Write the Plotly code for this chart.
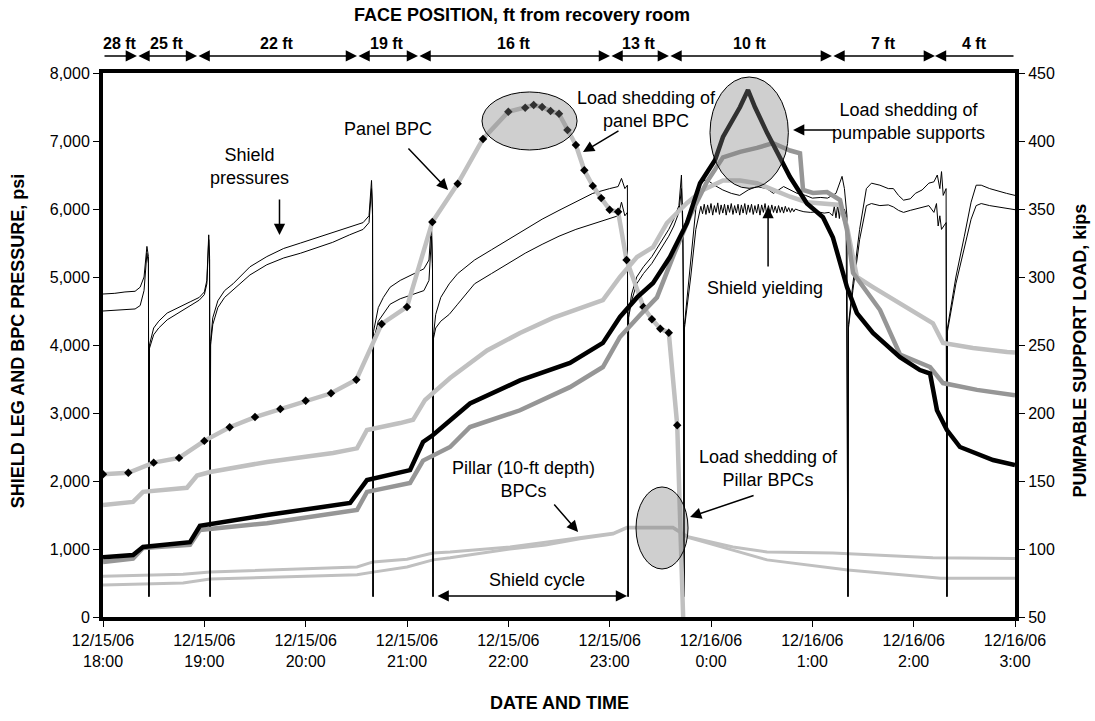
import plotly.graph_objects as go

# ---------------- DATA ----------------
# time axis in minutes after 12/15/06 18:00
tick_minutes = [0, 60, 120, 180, 240, 300, 360, 420, 480, 540]
tick_labels = ["12/15/06<br>18:00", "12/15/06<br>19:00", "12/15/06<br>20:00", "12/15/06<br>21:00",
               "12/15/06<br>22:00", "12/15/06<br>23:00", "12/16/06<br>0:00", "12/16/06<br>1:00",
               "12/16/06<br>2:00", "12/16/06<br>3:00"]

# face position (ft from recovery room) and segment boundaries (minutes)
face_labels = ["28 ft", "25 ft", "22 ft", "19 ft", "16 ft", "13 ft", "10 ft", "7 ft", "4 ft"]
face_bounds = [0, 20.1, 55.7, 150.4, 186.5, 300.2, 335.1, 431.6, 492.6, 540]

# shield leg pressures (psi), two legs
leg_a_min = [0, 7, 13, 19, 22, 24.3, 26, 26.9, 27.2,
             27.5, 30, 33, 38, 45, 52, 57, 60, 61.5, 62.6, 63.1, 63.4,
             63.7, 65, 68, 72, 77, 87, 97, 107, 117, 127, 136, 146, 154, 157.5, 159, 159.6, 159.9,
             160.2, 161, 163, 166, 170, 176, 184, 190, 193, 194.5, 195.1, 195.4,
             195.7, 197, 200, 205, 210, 220, 230, 240, 250, 260, 270, 280, 290, 300, 305, 307, 309, 310.5, 310.9,
             311.2, 313, 316, 320, 325, 330, 335, 338, 341, 342.5, 343.3, 343.7, 344,
             344.3, 348, 351, 354, 357.6, 362, 367, 372, 377, 382, 387, 393, 397, 403, 407, 411, 416, 420,
             425, 429, 434, 437.6, 439, 440.5, 441.1,
             441.4, 444, 448, 452, 455, 460, 465, 468, 471, 474, 478, 481, 485, 489, 492, 494, 495.5, 496.5,
             497.5, 499.2, 499.7,
             500, 505, 510, 514, 517, 520, 525, 530, 535, 540]
leg_a_psi = [4750, 4760, 4780, 4790, 4850, 5000, 5450, 5300, 300,
             4000, 4250, 4350, 4470, 4560, 4640, 4700, 4780, 4950, 5620, 5300, 300,
             4050, 4400, 4650, 4800, 4900, 5150, 5300, 5420, 5500, 5580, 5650, 5730, 5800, 5900, 6420, 6000, 300,
             4200, 4300, 4550, 4700, 4850, 4950, 5050, 5120, 5250, 5800, 5200, 300,
             4150, 4450, 4700, 4900, 5050, 5250, 5400, 5550, 5700, 5850, 5980, 6100, 6230, 6300, 6330, 6450, 6300, 6350, 300,
             4450, 4750, 5000, 5150, 5300, 5500, 5700, 5850, 6050, 6500, 5800, 4400, 300,
             4300, 5300, 6000, 6400, 6430, 6350, 6280, 6230, 6200, 6280, 6330, 6300, 6230, 6330, 6280, 6230, 6200, 6160,
             6170, 6160, 6230, 6480, 6300, 5900, 300,
             4300, 4900, 5700, 6300, 6380, 6350, 6300, 6300, 6200, 6130, 6150, 6230, 6280, 6380, 6400, 6500, 6300, 6550,
             6200, 6300, 300,
             4250, 5000, 5600, 6100, 6350, 6350, 6300, 6260, 6230, 6200]

leg_b_min = [0, 7, 13, 19, 22, 24.3, 26, 26.9, 27.2,
             27.5, 30, 33, 38, 45, 52, 57, 60, 61.5, 62.6, 63.1, 63.4,
             63.7, 65, 68, 72, 77, 87, 97, 107, 117, 127, 136, 146, 154, 157.5, 159, 159.6, 159.9,
             160.2, 161, 163, 166, 170, 176, 184, 190, 193, 194.5, 195.1, 195.4,
             195.7, 197, 200, 205, 210, 220, 230, 240, 250, 260, 270, 280, 290, 300, 305, 307, 309, 310.5, 310.9,
             311.2, 313, 316, 320, 325, 330, 335, 338, 341, 342.5, 343.3, 343.7, 344,
             344.3, 348, 351, 353, 354,
             355, 356, 357, 358, 359, 360, 361, 362, 363, 364, 365, 366, 367, 368, 369, 370, 371, 372, 373, 374,
             375, 376, 377, 378, 379, 380, 381, 382, 383, 384, 385, 386, 387, 388, 389, 390, 391, 392, 393, 394,
             395, 396, 397, 398, 399, 400, 401, 402, 403, 404, 405, 406, 407, 408, 409, 410, 412, 415, 419, 423,
             427, 430, 432, 433, 434, 435, 436, 437, 438, 439, 440, 441.1,
             441.4, 444, 448, 452, 455, 460, 465, 468, 471, 474, 478, 481, 485, 489, 492, 493.5, 494.5, 495.5,
             496.5, 498, 499.2, 499.7,
             500, 505, 510, 514, 517, 520, 525, 530, 535, 540]
leg_b_psi = [4500, 4510, 4520, 4530, 4580, 4800, 5350, 5200, 300,
             3950, 4150, 4250, 4370, 4480, 4580, 4660, 4740, 4900, 5550, 5250, 300,
             4000, 4300, 4550, 4700, 4810, 5030, 5180, 5280, 5350, 5440, 5510, 5620, 5700, 5800, 6300, 5900, 300,
             4150, 4150, 4350, 4450, 4600, 4680, 4750, 4800, 4950, 5600, 5100, 300,
             4100, 4250, 4350, 4450, 4600, 4900, 5050, 5200, 5350, 5480, 5600, 5700, 5780, 5850, 5900, 6100, 5900, 5950, 300,
             4400, 4650, 4900, 5050, 5200, 5400, 5600, 5750, 5950, 6300, 5700, 4400, 300,
             4250, 5000, 5700, 5950, 6040,
             5930, 6070, 5920, 6060, 5940, 6080, 5910, 6050, 5950, 6090, 5920, 6060, 5940, 6070, 5910, 6060, 5950, 6080, 5920, 6050,
             5940, 6070, 5910, 6060, 5940, 6080, 5920, 6060, 5950, 6070, 5920, 6050, 5940, 6070, 5910, 6060, 5950, 6080, 5920, 6050,
             5940, 6060, 5950, 6040, 5940, 6050, 5950, 6030, 5940, 6040, 5960, 6020, 5950, 6010, 5960, 6000, 5980, 5960, 5950, 5960,
             5940, 5950, 5900, 6040, 5870, 6060, 5860, 6080, 5850, 6000, 5900, 300,
             4250, 4800, 5550, 6050, 6080, 6050, 6060, 6030, 5980, 5950, 5980, 6000, 6020, 6050, 5950, 6080, 5750, 5900,
             5700, 5750, 5800, 300,
             4200, 4900, 5450, 5850, 6050, 6080, 6050, 6030, 6000, 5990]

# panel BPC (psi)
panel_min = [0, 15, 30, 45, 60, 75, 90, 105, 120, 135, 150, 165, 180, 195, 210, 225, 240, 250, 255, 260,
             265, 270, 275, 280, 285, 290, 295, 300, 305, 310, 320, 325, 330, 335, 340, 343.5]
panel_psi = [2100, 2120, 2270, 2340, 2590, 2790, 2940, 3060, 3180, 3290, 3490, 4310, 4560, 5810, 6370, 7030,
             7430, 7490, 7530, 7500, 7440, 7400, 7160, 6940, 6570, 6340, 6160, 5990, 5960, 5250, 4560, 4380,
             4240, 4180, 2820, 0]
panel_marker_min = panel_min[:-1]
panel_marker_psi = panel_psi[:-1]

# pillar (10-ft depth) BPCs (psi)
pillar1_min = [0, 47.4, 63.4, 150.4, 159.9, 180, 195.4, 205.5, 241, 282.4, 302, 310.3, 337.5, 346.4, 373,
               393.2, 432.2, 491.4, 540]
pillar1_psi = [600, 630, 660, 735, 810, 850, 940, 955, 1030, 1160, 1230, 1320, 1320, 1180, 1030, 955, 940, 870, 860]
pillar2_min = [0, 47.4, 63.4, 150.4, 159.9, 180, 195.4, 205.5, 241, 262, 282.4, 302, 310.3, 337.5, 346.4,
               373, 393.2, 441, 496, 540]
pillar2_psi = [470, 500, 560, 620, 660, 735, 840, 870, 1000, 1060, 1150, 1220, 1310, 1310, 1170, 985, 840, 690,
               570, 570]

# pumpable supports (kips, right axis)
pump_black_min = [0, 17.8, 23.7, 51.5, 57.4, 97.1, 146.3, 156.3, 181.8, 189.5, 195.4, 205.5, 217.3, 246.9,
                  276.5, 296, 306.1, 316.2, 325.7, 335.7, 345.8, 353.5, 362.4, 367.1, 377.2, 381.9, 386, 393.2,
                  400.9, 406.8, 416.8, 426.3, 432.2, 440.5, 446.4, 455.9, 471.9, 483.7, 489.7, 493.8, 499.7,
                  507.4, 527, 540]
pump_black_kips = [94, 95.6, 101.5, 105, 117, 125, 133.8, 150.7, 158, 178.7, 183.8, 194.8, 207, 224, 236.8,
                   251.5, 270.6, 285, 295.6, 314.7, 339.7, 369, 386, 403, 425, 437.5, 425, 406, 388, 373.5, 354,
                   344, 329, 292.6, 273.5, 258.8, 241, 231.6, 229, 202, 187.5, 175, 165.4, 161.8]
pump_dark_min = [0, 17.8, 23.7, 51.5, 57.4, 97.1, 150.4, 156.3, 181.8, 189.5, 205.5, 217.3, 246.9, 276.5,
                 296, 306.1, 318, 328, 337.5, 347.6, 357.6, 367.1, 377.2, 387.2, 396.7, 402.6, 406.8, 412.7,
                 414.5, 420.4, 428.7, 436.4, 440.5, 444.1, 455.9, 460.1, 471.9, 489.7, 497.4, 517.5, 540]
pump_dark_kips = [90.4, 93, 100.7, 103, 114, 119, 128.7, 142, 148.5, 165, 175, 189.7, 202, 219, 233.8, 255.9,
                  272, 285, 315, 345, 370, 388, 392, 394.9, 398.5, 395.6, 393, 391, 364, 361.8, 362.5, 356.6,
                  334.6, 303, 283, 275.7, 243, 233.8, 222, 217, 213]
pump_light_min = [0, 17.8, 23.7, 49.7, 55.7, 63.4, 97.1, 136.2, 150.4, 156.3, 175.9, 183.6, 190.7, 205.5,
                  227.4, 246.9, 266.4, 296, 306.1, 316.2, 325.7, 333.9, 345.8, 355.3, 367.1, 377.2, 387.2, 396.7,
                  406.8, 416.8, 436.4, 440.5, 446.4, 455.9, 476, 491.4, 497.4, 515.1, 535.3, 540]
pump_light_kips = [132.4, 134.6, 142, 145, 154, 156.6, 164, 170.6, 174, 187.5, 192.6, 195, 209.6, 225.7, 246,
                   258.8, 269.9, 283, 300, 314.7, 322, 339.7, 354.4, 364, 371, 371, 369, 364, 359, 355, 353, 337,
                   300, 292.6, 278, 266, 251.5, 247.8, 244.9, 244.5]

# ---------------- FIGURE ----------------
FONT = "Arial, Liberation Sans, sans-serif"
LIGHT = "#c0c0c0"
DARK = "#969696"

fig = go.Figure()

fig.add_trace(go.Scatter(x=pillar1_min, y=pillar1_psi, mode="lines",
                         line=dict(color=LIGHT, width=3), hoverinfo="skip"))
fig.add_trace(go.Scatter(x=pillar2_min, y=pillar2_psi, mode="lines",
                         line=dict(color=LIGHT, width=3), hoverinfo="skip"))
fig.add_trace(go.Scatter(x=pump_light_min, y=pump_light_kips, yaxis="y2", mode="lines",
                         line=dict(color=LIGHT, width=4.5), hoverinfo="skip"))
fig.add_trace(go.Scatter(x=pump_dark_min, y=pump_dark_kips, yaxis="y2", mode="lines",
                         line=dict(color=DARK, width=4.5), hoverinfo="skip"))
fig.add_trace(go.Scatter(x=pump_black_min, y=pump_black_kips, yaxis="y2", mode="lines",
                         line=dict(color="black", width=4.5), hoverinfo="skip"))
fig.add_trace(go.Scatter(x=leg_a_min, y=leg_a_psi, mode="lines",
                         line=dict(color="black", width=1), hoverinfo="skip"))
fig.add_trace(go.Scatter(x=leg_b_min, y=leg_b_psi, mode="lines",
                         line=dict(color="black", width=1), hoverinfo="skip"))
fig.add_trace(go.Scatter(x=panel_min, y=panel_psi, mode="lines",
                         line=dict(color=LIGHT, width=4.5), hoverinfo="skip"))
fig.add_trace(go.Scatter(x=panel_marker_min, y=panel_marker_psi, mode="markers",
                         marker=dict(symbol="diamond", size=6.5, color="black"), hoverinfo="skip"))

# shaded ellipses (minutes, psi)
ellipses = [(224.4, 280.7, 6868, 7721), (359.4, 405.8, 6304, 7941), (315.6, 346.4, 706, 1912)]
shapes = []
for x0, x1, y0, y1 in ellipses:
    shapes.append(dict(type="circle", xref="x", yref="y", x0=x0, x1=x1, y0=y0, y1=y1,
                       fillcolor="rgba(128,128,128,0.38)", line=dict(color="black", width=1), layer="above"))

ann = []
txt = dict(family=FONT, size=18, color="black")
# text labels
for t, x, y in [("Shield<br>pressures", 87.0, 6632), ("Panel BPC", 168.5, 7177),
                ("Load shedding of<br>panel BPC", 322.1, 7470),
                ("Load shedding of<br>pumpable supports", 477.2, 7280),
                ("Shield yielding", 392.0, 4838), ("Pillar (10-ft depth)<br>BPCs", 248.7, 2029),
                ("Load shedding of<br>Pillar BPCs", 393.8, 2191), ("Shield cycle", 257.0, 544)]:
    ann.append(dict(text=t, x=x, y=y, xref="x", yref="y", showarrow=False, font=txt,
                    xanchor="center", yanchor="middle"))
# arrows (tail -> head)
for tx, ty, hx, hy, side in [(104.5, 6162, 104.5, 5618, "end"), (180.0, 6912, 204.3, 6279, "end"),
                             (306.1, 7162, 284.2, 6838, "end"), (434.6, 7162, 408.6, 7162, "end"),
                             (393.8, 5132, 393.8, 6029, "end"), (266.4, 1676, 281.3, 1250, "end"),
                             (386.1, 1794, 347.6, 1471, "end"), (197.2, 309, 310.3, 309, "end+start")]:
    ann.append(dict(text="", x=hx, y=hy, ax=tx, ay=ty, xref="x", yref="y", axref="x", ayref="y",
                    showarrow=True, arrowhead=2, arrowsize=1.5, arrowwidth=1.5, arrowcolor="black",
                    arrowside=side, standoff=0, startstandoff=0))

# face position arrows above the plot
ARROW_Y = 1.0313
for i, lab in enumerate(face_labels):
    a, b = face_bounds[i], face_bounds[i + 1]
    if i == 0:
        side = "end"; hx, tx = b, a
    elif i == len(face_labels) - 1:
        side = "end"; hx, tx = a, b
    else:
        side = "end+start"; hx, tx = b, a
    ann.append(dict(text="", x=hx, y=ARROW_Y, ax=tx, ay=0, xref="x", yref="paper", axref="x", ayref="pixel",
                    showarrow=True, arrowhead=2, arrowsize=1.5, arrowwidth=1.5, arrowcolor="black",
                    arrowside=side, standoff=0, startstandoff=0))
    ann.append(dict(text="<b>%s</b>" % lab, x=(a + b) / 2, y=1.0551, xref="x", yref="paper", showarrow=False,
                    font=dict(family=FONT, size=16, color="black"), xanchor="center", yanchor="middle"))

# titles
TFONT = dict(family=FONT, size=18, color="black")
ann.append(dict(text="<b>FACE POSITION, ft from recovery room</b>", x=0.4594, y=1.1066, xref="paper", yref="paper",
                showarrow=False, font=TFONT, xanchor="center", yanchor="middle"))
ann.append(dict(text="<b>DATE AND TIME</b>", x=0.5, y=-0.158, xref="paper", yref="paper",
                showarrow=False, font=TFONT, xanchor="center", yanchor="middle"))
ann.append(dict(text="<b>SHIELD LEG AND BPC PRESSURE, psi</b>", x=-0.0932, y=0.507, xref="paper", yref="paper",
                textangle=-90, showarrow=False, font=TFONT, xanchor="center", yanchor="middle"))
ann.append(dict(text="<b>PUMPABLE SUPPORT LOAD, kips</b>", x=1.0713, y=0.49, xref="paper", yref="paper",
                textangle=-90, showarrow=False, font=TFONT, xanchor="center", yanchor="middle"))

fig.update_layout(
    width=1095, height=721,
    margin=dict(l=103, r=80, t=73, b=104, pad=0),
    paper_bgcolor="white", plot_bgcolor="white",
    showlegend=False,
    font=dict(family=FONT, size=16, color="black"),
    xaxis=dict(range=[0, 540], tickvals=tick_minutes, ticktext=tick_labels, showgrid=False, zeroline=False,
               showline=True, linewidth=4, linecolor="black", mirror=True,
               ticks="outside", ticklen=6, tickwidth=1, tickcolor="black",
               tickfont=dict(family=FONT, size=16)),
    yaxis=dict(range=[0, 8000], dtick=1000, tickformat=",d", showgrid=False, zeroline=False,
               showline=True, linewidth=4, linecolor="black", mirror=True,
               ticks="outside", ticklen=6, tickwidth=1, tickcolor="black",
               tickfont=dict(family=FONT, size=16)),
    yaxis2=dict(range=[50, 450], dtick=50, overlaying="y", side="right", showgrid=False, zeroline=False,
                showline=True, linewidth=4, linecolor="black",
                ticks="outside", ticklen=6, tickwidth=1, tickcolor="black",
                tickfont=dict(family=FONT, size=16)),
    shapes=shapes,
    annotations=ann,
)

fig.write_html("out.html", config={"displayModeBar": False},
               post_script="document.body.style.margin='0';document.body.style.padding='0';")
